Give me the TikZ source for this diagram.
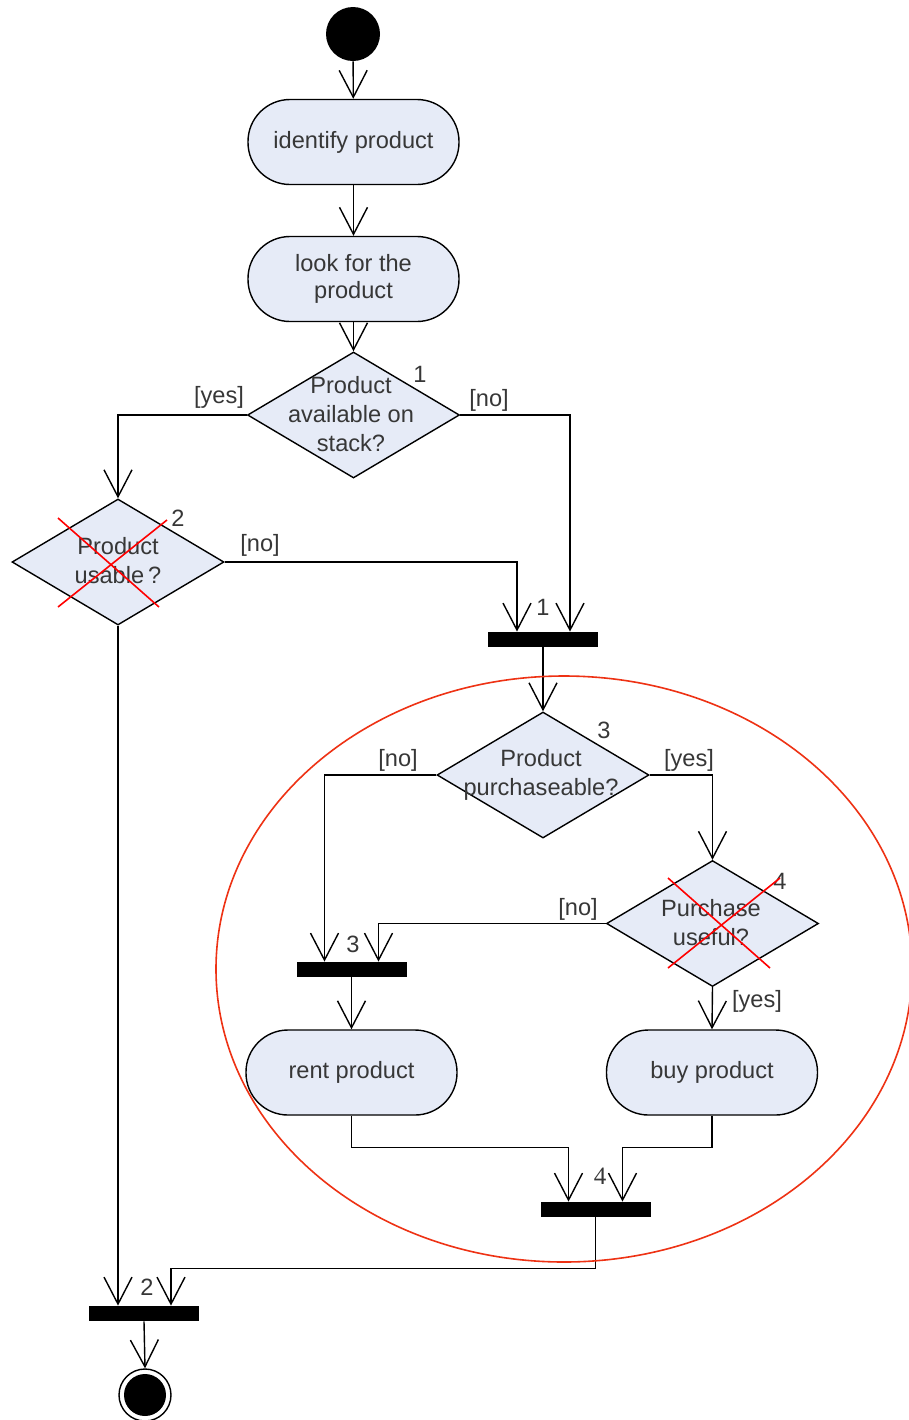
\documentclass[tikz,border=0pt]{standalone}
\usepackage{fontspec}
\setmainfont{Liberation Sans}
\newfontfamily\numserif{Liberation Serif}
\usetikzlibrary{arrows.meta,shapes.geometric,calc}
\definecolor{actfill}{RGB}{230,235,247}
\definecolor{txtgray}{RGB}{55,55,55}
\definecolor{ellred}{RGB}{238,50,20}
\tikzset{
  flow/.style={draw=black, line width=0.7pt, -{Straight Barb[length=13.5pt,width=14pt,line width=0.7pt]}},
  action/.style={draw=black, line width=0.7pt, fill=actfill, rectangle, rounded corners=21pt,
    minimum width=105.5pt, minimum height=42.5pt, inner sep=0pt, text=txtgray, align=center,
    font=\fontsize{11.8pt}{13.5pt}\selectfont},
  decision/.style={draw=black, line width=0.7pt, fill=actfill, diamond, minimum width=106pt,
    minimum height=63pt, inner sep=0pt},
  dtext/.style={text=txtgray, align=center, inner sep=0pt, font=\fontsize{11.8pt}{14.5pt}\selectfont},
  lbl/.style={text=txtgray, inner sep=0pt, font=\fontsize{11.8pt}{13.5pt}\selectfont},
  bar/.style={fill=black, draw=none, rectangle, minimum width=55pt, minimum height=7.5pt, inner sep=0pt},
  startnode/.style={circle, fill=black, minimum size=27pt, inner sep=0pt},
  cross/.style={draw=red, line width=0.8pt},
}
\begin{document}
\begin{tikzpicture}[x=0.5pt,y=-0.5pt]
\useasboundingbox (0,0) rectangle (909,1420);
\fill[white] (0,0) rectangle (909,1420);

% nodes
\node[startnode] (start) at (353,34) {};
\node[action] (a1) at (353.5,142) {identify product};
\node[action] (a2) at (353.5,279) {look for the\\product};
\node[decision] (d1) at (353.5,415) {};
\node[dtext] (t1) at (351,414) {Product\\available on\\stack?};
\node[lbl] (n1) at (420,374) {1};

\node[decision] (d2) at (118,562) {};
\node[dtext] (t2) at (118,561) {Product\\usable\,?};
\node[lbl] (n2) at (178,518) {2};

\node[bar] (b1) at (543,639.5) {};
\node[lbl] (n1b) at (543,607) {1};

\node[decision] (d3) at (543,775) {};
\node[dtext] (t3) at (541,775) {Product\\purchaseable?};
\node[lbl] (n3) at (604,730) {3};

\node[decision] (d4) at (712.5,923.5) {};
\node[dtext] (t4) at (711,923) {Purchase\\useful?};
\node[lbl] (n4) at (780,881) {4};

\node[bar] (b3) at (351.5,969.5) {};
\node[lbl] (n3b) at (353,944) {3};

\node[action] (rent) at (351.5,1072.5) {rent product};
\node[action] (buy) at (712,1072.5) {buy product};

\node[bar] (b4) at (595.5,1209.5) {};
\node[lbl, font=\fontsize{12.5pt}{13.5pt}\numserif] (n4b) at (600,1176) {4};

\node[bar] (b2) at (144,1313.5) {};
\node[lbl] (n2b) at (147,1287) {2};

\node[circle, draw=black, line width=0.7pt, minimum size=26pt, inner sep=0pt] (end) at (145,1395) {};
\node[circle, fill=black, minimum size=21pt, inner sep=0pt] at (end) {};

% connector labels
\node[lbl] (l1) at (219,397) {[yes]};
\node[lbl] (l2) at (489,400) {[no]};
\node[lbl] (l3) at (260,545) {[no]};
\node[lbl] (l4) at (398,760) {[no]};
\node[lbl] (l5) at (689,760) {[yes]};
\node[lbl] (l6) at (578,909) {[no]};
\node[lbl] (l7) at (757,1001) {[yes]};

% connectors
\draw[flow] (start) -- (a1);
\draw[flow] (a1) -- (a2);
\draw[flow] (a2) -- (d1.north);
\draw[flow] (d1.west) -| (d2.north);
\draw[flow] (d1.east) -| ([xshift=13.5pt]b1.north);
\draw[flow] (d2.east) -| ([xshift=-13pt]b1.north);
\draw[flow] (b1.south) -- (d3.north);
\draw[flow] (d3.west) -| ([xshift=-13.5pt]b3.north);
\draw[flow] (d3.east) -| (d4.north);
\draw[flow] (d4.west) -| ([xshift=13.5pt]b3.north);
\draw[flow] (d4.south) -- (buy.north);
\draw[flow] (b3.south) -- (rent.north);
\draw[flow] (rent.south) -- ++(0,32) -| ([xshift=-13.5pt]b4.north);
\draw[flow] (buy.south) -- ++(0,32) -| ([xshift=13.5pt]b4.north);
\draw[flow] (b4.south) -- ++(0,51) -| ([xshift=13.5pt]b2.north);
\draw[flow] (d2.south) -- (d2.south |- b2.north);
\draw[flow] (b2.south) -- (end.north);

% red crosses
\draw[cross] (58,518) -- (159,607);
\draw[cross] (58,607) -- (167,520);
\draw[cross] (668,878) -- (770,968);
\draw[cross] (668,968) -- (780,878);

% red ellipse
\draw[ellred, line width=0.8pt] (564,969) ellipse [x radius=174pt, y radius=146.5pt];
\end{tikzpicture}
\end{document}
